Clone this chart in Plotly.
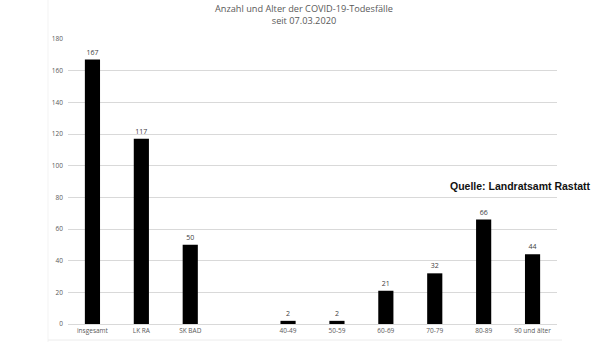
import plotly.graph_objects as go

# Deaths by district and age group since 07.03.2020
categories = ["insgesamt", "LK RA", "SK BAD", " ", "40-49", "50-59", "60-69", "70-79", "80-89", "90 und älter"]
deaths = [167, 117, 50, None, 2, 2, 21, 32, 66, 44]
y_ticks = [0, 20, 40, 60, 80, 100, 120, 140, 160, 180]

labels = ["" if v is None else str(v) for v in deaths]

PLOT_L, PLOT_R, PLOT_T, PLOT_B = 68, 557, 39, 324
W, H = 608, 342
pw, ph = PLOT_R - PLOT_L, PLOT_B - PLOT_T


def px(x):
    return (x - PLOT_L) / pw


def py(y):
    return (PLOT_B - y) / ph


fig = go.Figure(
    go.Bar(
        x=categories,
        y=deaths,
        width=0.31,
        marker=dict(color="#000000", line=dict(width=0)),
        text=labels,
        textposition="outside",
        textfont=dict(family="Open Sans, Liberation Sans, sans-serif", size=7, color="#404040"),
        cliponaxis=False,
    )
)

fig.update_layout(
    width=W,
    height=H,
    margin=dict(l=PLOT_L, r=W - PLOT_R, t=PLOT_T, b=H - PLOT_B, autoexpand=False),
    paper_bgcolor="white",
    plot_bgcolor="white",
    showlegend=False,
    font=dict(family="Open Sans, Liberation Sans, sans-serif", size=7, color="#595959"),
    xaxis=dict(
        type="category",
        categoryorder="array",
        categoryarray=categories,
        automargin=False,
        showgrid=False,
        showline=True,
        linecolor="#d9d9d9",
        linewidth=1,
        ticks="",
        tickfont=dict(size=6.5, color="#595959"),
        fixedrange=True,
    ),
    yaxis=dict(
        range=[0, 180],
        tickvals=y_ticks,
        automargin=False,
        showgrid=True,
        gridcolor="#d9d9d9",
        gridwidth=1,
        zeroline=False,
        showline=False,
        ticks="",
        ticklabelstandoff=4,
        tickfont=dict(size=6.5, color="#595959"),
        fixedrange=True,
    ),
    annotations=[
        dict(
            text="Anzahl und Alter der COVID-19-Todesfälle<br>seit 07.03.2020",
            x=px(304), y=py(0), xref="paper", yref="paper",
            xanchor="center", yanchor="top",
            showarrow=False,
            align="center",
            font=dict(family="Open Sans, Liberation Sans, sans-serif", size=9.2, color="#595959"),
        ),
        dict(
            text="<b>Quelle: Landratsamt Rastatt</b>",
            x=px(593), y=py(186), xref="paper", yref="paper",
            xanchor="right", yanchor="middle",
            showarrow=False,
            font=dict(family="Liberation Sans, Arial, sans-serif", size=10.5, color="#111111"),
        ),
    ],
    shapes=[
        dict(type="line", xref="paper", yref="paper",
             x0=px(48), x1=px(48), y0=py(342), y1=py(0),
             line=dict(color="#f3f3f3", width=1)),
        dict(type="line", xref="paper", yref="paper",
             x0=px(48), x1=px(562), y0=py(340), y1=py(340),
             line=dict(color="#ececec", width=1)),
    ],
)

fig.write_html("out.html")
